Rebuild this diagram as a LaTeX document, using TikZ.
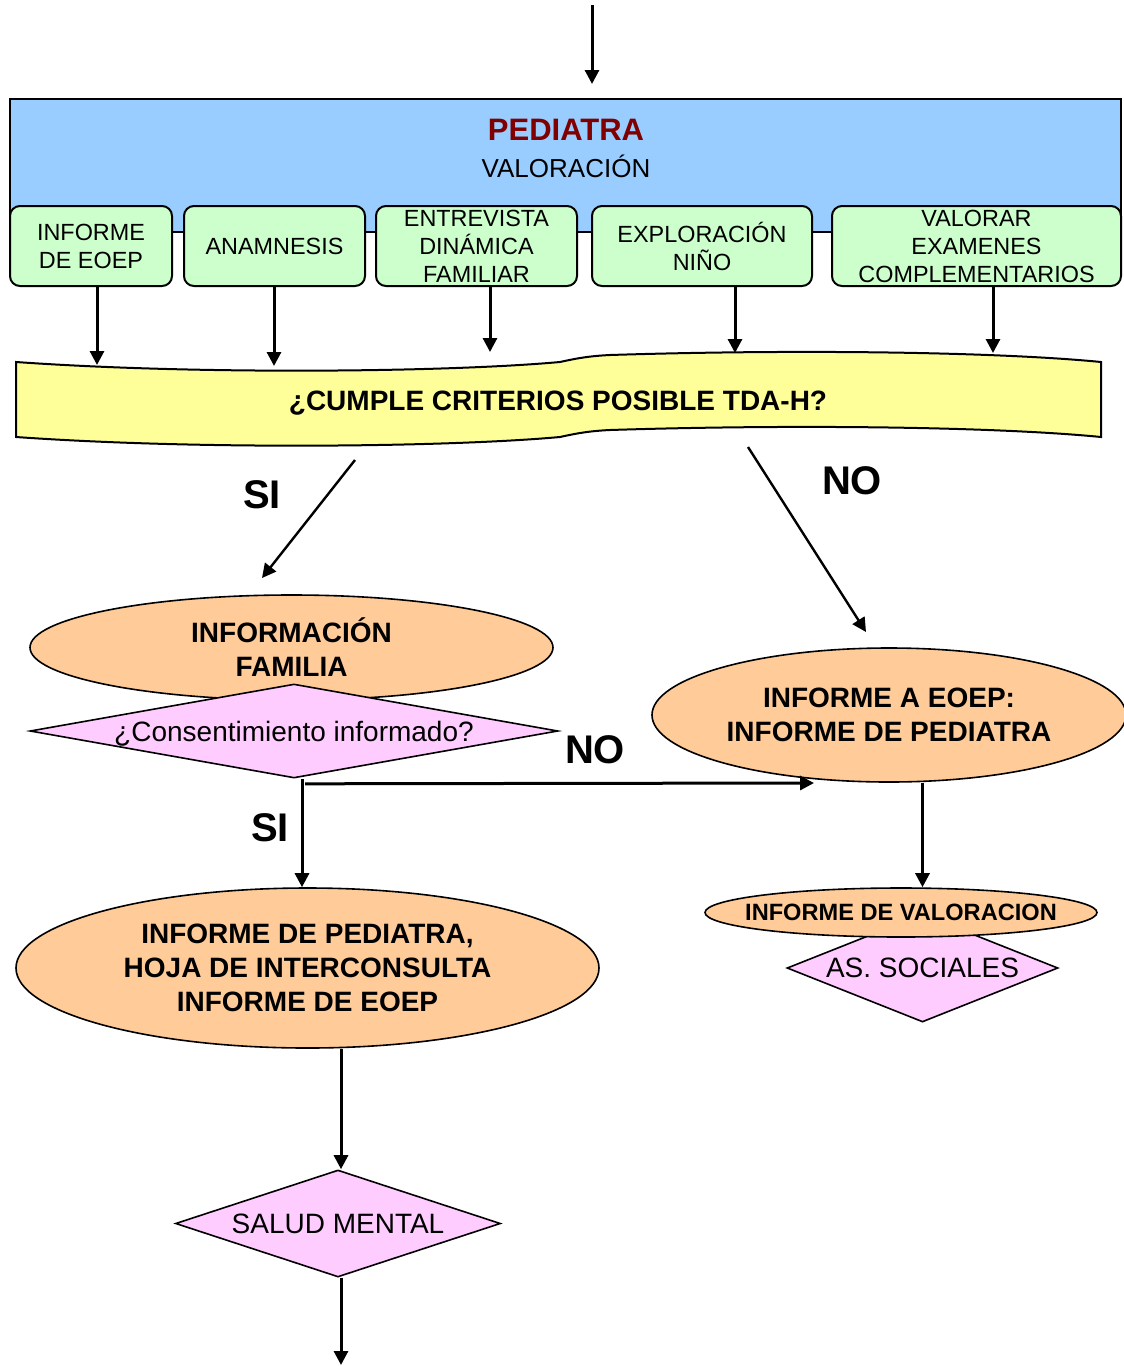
\documentclass[tikz,border=0pt]{standalone}
\usepackage{fontspec}
\setmainfont{Liberation Sans}
\usetikzlibrary{shapes.geometric,arrows.meta}
\definecolor{azul}{RGB}{153,204,255}
\definecolor{verde}{RGB}{204,255,204}
\definecolor{amarillo}{RGB}{255,255,153}
\definecolor{naranja}{RGB}{255,204,153}
\definecolor{rosa}{RGB}{255,204,255}
\definecolor{granate}{RGB}{128,0,0}
\tikzset{
  arr/.style={-{Triangle[length=7pt,width=7pt]},line width=1.5pt},
  caja/.style={draw,line width=1pt,rounded corners=5pt,fill=verde,align=center,inner sep=0pt,minimum height=40pt,font=\fontsize{11.7}{14}\selectfont},
  elip/.style={ellipse,draw,line width=0.8pt,fill=naranja,align=center,inner sep=0pt,font=\bfseries\fontsize{14}{17}\selectfont},
  rombo/.style={diamond,draw,line width=0.8pt,fill=rosa,inner sep=0pt,text depth=0pt,font=\fontsize{14}{17}\selectfont},
  etiq/.style={font=\bfseries\fontsize{20}{24}\selectfont}
}
\begin{document}
\begin{tikzpicture}[x=0.5pt,y=-0.5pt]
    \useasboundingbox (0,0) rectangle (1124,1366);
    % Entrada
    \coordinate (in) at (592,5);
    \node[draw,line width=1pt,fill=azul,minimum width=555.5pt,minimum height=66.5pt,inner sep=0pt] (hdr) at (565.5,165.5) {};
    \draw[arr,shorten >=7pt] (in) -- (in |- hdr.north);
    \node[text=granate,font=\bfseries\fontsize{15.5}{18}\selectfont] (pedt) at (566,130) {PEDIATRA};
    \node[font=\fontsize{13}{16}\selectfont] (valt) at (566,166) {VALORACIÓN};
    % Criterios
    \draw[line width=1pt,fill=amarillo] (16,362) .. controls (200,375) and (450,372) .. (560,362)
      .. controls (578,358) and (590,356) .. (610,355) .. controls (800,349) and (1000,352) .. (1101,362)
      -- (1101,437) .. controls (1000,427) and (800,424) .. (610,430)
      .. controls (590,431) and (578,433) .. (560,437) .. controls (450,447) and (200,450) .. (16,437) -- cycle;
    \node[text depth=0pt,font=\bfseries\fontsize{14}{17}\selectfont] (crit) at (558,401) {¿CUMPLE CRITERIOS POSIBLE TDA-H?};
    % Pasos de la valoracion
    \foreach \n/\cx/\w/\ax/\ay/\txt in {b1/91/81/97/365/{INFORME\\DE EOEP},b2/274.5/90.5/274/366/{ANAMNESIS},
      b3/476.5/100.5/490/352/{ENTREVISTA\\DINÁMICA\\FAMILIAR},b4/702/110/735/353/{EXPLORACIÓN\\NIÑO},
      b5/976.5/144.5/993/353/{VALORAR\\EXAMENES\\COMPLEMENTARIOS}}{
      \node[caja,minimum width=\w pt] (\n) at (\cx,246) {\txt};
      \coordinate (t\n) at (\ax,\ay);
      \draw[arr] (\n.south -| t\n) -- (t\n);
    }
    % SI / NO
    \coordinate (si1) at (355,460); \coordinate (si2) at (262,578);
    \draw[arr,line width=1.2pt] (si1) -- (si2);
    \node[etiq] (lsi1) at (262,495) {SI};
    \coordinate (no1) at (748,447); \coordinate (no2) at (866,632);
    \draw[arr,line width=1.2pt] (no1) -- (no2);
    \node[etiq] (lno1) at (852,481) {NO};
    % Rama SI
    \node[elip,minimum width=261.5pt,minimum height=52.5pt] (fam) at (291.5,647.5) {INFORMACIÓN\\FAMILIA};
    \node[rombo,aspect=5.6,minimum width=264pt,minimum height=47pt] (cons) at (294,731) {¿Consentimiento informado?};
    \node[elip,minimum width=291.5pt,minimum height=80pt] (peds) at (307.5,968) {INFORME DE PEDIATRA,\\HOJA DE INTERCONSULTA\\INFORME DE EOEP};
    \node[rombo,aspect=3,minimum width=162.5pt,minimum height=53.5pt] (sm) at (338,1223.5) {SALUD MENTAL};
    \coordinate (c1) at ([xshift=4pt]cons.south);
    \draw[arr] (c1) -- (c1 |- peds.north);
    \node[etiq] (lsi2) at (270,828) {SI};
    \draw[arr] ([xshift=1.5pt]peds.south -| sm.north) -- ([xshift=1.5pt]sm.north);
    \coordinate (out) at (341,1365);
    \draw[arr] ([xshift=1.5pt]sm.south) -- (out);
    % Rama NO
    \node[elip,minimum width=237pt,minimum height=67pt] (eoep) at (889,715) {INFORME A EOEP:\\INFORME DE PEDIATRA};
    \coordinate (c2) at ([xshift=5.5pt,yshift=-2.5pt]cons.south);
    \coordinate (noend) at (814,783);
    \draw[arr] (c2) -- (noend);
    \node[etiq] (lno2) at (595,750) {NO};
    \node[rombo,aspect=2.5,minimum width=135.5pt,minimum height=54pt] (soc) at (922.5,968) {AS. SOCIALES};
    \node[elip,inner xsep=-12pt,minimum width=196pt,minimum height=24.5pt,font=\bfseries\fontsize{11.8}{14}\selectfont] (val) at (901,912.5) {INFORME DE VALORACION};
    \draw[arr] (eoep.south -| soc.north) -- (val.north -| soc.north);
\end{tikzpicture}
\end{document}
